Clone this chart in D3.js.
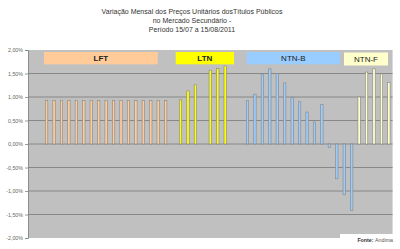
<!DOCTYPE html>
<html>
<head>
<meta charset="utf-8">
<script src="https://cdn.jsdelivr.net/npm/d3@7"></script>
<style>
  body { margin: 0; background: #fff; }
  svg { display: block; font-family: "Liberation Sans", Arial, sans-serif; }
</style>
</head>
<body>
<svg width="400" height="249"></svg>
<script>
var width = 400;
var height = 249;

// values (% change)
var lftValues = [0.93, 0.93, 0.93, 0.93, 0.93, 0.93, 0.93, 0.93, 0.93, 0.93, 0.93, 0.93, 0.93, 0.93, 0.93, 0.93, 0.93];
var ltnValues = [0.94, 1.13, 1.26, null, 1.57, 1.61, 1.66];
var ntnbValues = [0.92, 1.06, 1.49, 1.60, 1.50, 1.30, 0.99, 0.90, 0.68, 0.47, 0.84, -0.07, -0.74, -1.08, -1.41];
var ntnfValues = [1.00, 1.53, 1.60, 1.49, 1.31];

var groupNames = ["LFT", "LTN", "NTN-B", "NTN-F"];
var groupColors = ["#ffcc99", "#ffff00", "#99ccff", "#ffffcc"];
var yTicks = [2, 1.5, 1, 0.5, 0, -0.5, -1, -1.5, -2];

var titleLines = [
  "Variação Mensal dos Preços Unitários dosTítulos Públicos",
  "no Mercado Secundário -",
  "Período 15/07 a 15/08/2011"
];

// build the category sequence, with empty slots between groups
var slots = [];
function addBlank(n) {
  for (var i = 0; i < n; i++) slots.push({ id: "b" + slots.length, value: null, group: -1 });
}
function addGroup(values, g) {
  values.forEach(function (v) {
    slots.push({ id: "s" + slots.length, value: v, group: g });
  });
}
addBlank(2);
addGroup(lftValues, 0);
addBlank(1);
addGroup(ltnValues, 1);
addBlank(2);
addGroup(ntnbValues, 2);
addGroup(ntnfValues, 3);

var svg = d3.select("svg");

var plot = { left: 28, right: 392.6, top: 50, bottom: 238 };

var x = d3.scaleBand()
    .domain(slots.map(function (d) { return d.id; }))
    .range([plot.left, plot.right]);

var y = d3.scaleLinear()
    .domain([-2, 2])
    .range([plot.bottom, plot.top]);

// title
svg.append("g")
  .selectAll("text")
  .data(titleLines)
  .enter().append("text")
    .attr("x", 192)
    .attr("y", function (d, i) { return 13.5 + i * 9.4; })
    .attr("text-anchor", "middle")
    .attr("font-size", 7)
    .attr("fill", "#333")
    .text(function (d) { return d; });

// plot background
svg.append("rect")
    .attr("x", plot.left)
    .attr("y", plot.top)
    .attr("width", plot.right - plot.left)
    .attr("height", plot.bottom - plot.top)
    .attr("fill", "#c0c0c0");

// gridlines
svg.append("g")
  .selectAll("line")
  .data(yTicks.filter(function (t) { return t > -2 && t < 2; }))
  .enter().append("line")
    .attr("x1", plot.left)
    .attr("x2", plot.right)
    .attr("y1", function (d) { return y(d); })
    .attr("y2", function (d) { return y(d); })
    .attr("stroke", "#7a7a7a")
    .attr("stroke-width", 0.8);

// y axis
function fmt(v) {
  return (v < 0 ? "-" : "") + Math.abs(v).toFixed(2).replace(".", ",") + "%";
}
var yAxis = svg.append("g")
    .attr("transform", "translate(" + plot.left + ",0)")
    .call(d3.axisLeft(y).tickValues(yTicks).tickSize(3).tickFormat(fmt));
yAxis.select(".domain").attr("stroke", "#808080").attr("stroke-width", 0.8);
yAxis.selectAll(".tick line").attr("stroke", "#808080").attr("stroke-width", 0.8);
yAxis.selectAll(".tick text")
    .attr("x", -5)
    .attr("font-size", 5.3)
    .attr("font-family", "Liberation Sans, Arial, sans-serif")
    .attr("fill", "#666");

// bars
var barW = 2.4;
svg.append("g")
  .selectAll("rect")
  .data(slots.filter(function (d) { return d.value !== null; }))
  .enter().append("rect")
    .attr("x", function (d) { return x(d.id) + x.bandwidth() / 2 - barW / 2; })
    .attr("y", function (d) { return y(Math.max(0, d.value)); })
    .attr("width", barW)
    .attr("height", function (d) { return Math.abs(y(d.value) - y(0)); })
    .attr("fill", function (d) { return groupColors[d.group]; })
    .attr("stroke", "#858585")
    .attr("stroke-width", 0.6);

// group label boxes
var boxes = [
  { x0: 44, x1: 157.7, y0: 52, y1: 64.3, bold: true },
  { x0: 175.7, x1: 234, y0: 52, y1: 64.3, bold: true },
  { x0: 246.7, x1: 340, y0: 52, y1: 64.3, bold: false },
  { x0: 344, x1: 388, y0: 52.5, y1: 65.5, bold: false }
];
var box = svg.append("g")
  .selectAll("g")
  .data(boxes)
  .enter().append("g");
box.append("rect")
    .attr("x", function (d) { return d.x0; })
    .attr("y", function (d) { return d.y0; })
    .attr("width", function (d) { return d.x1 - d.x0; })
    .attr("height", function (d) { return d.y1 - d.y0; })
    .attr("fill", function (d, i) { return groupColors[i]; });
box.append("text")
    .attr("x", function (d) { return (d.x0 + d.x1) / 2; })
    .attr("y", function (d) { return (d.y0 + d.y1) / 2 + 3; })
    .attr("text-anchor", "middle")
    .attr("font-size", 8)
    .attr("font-weight", function (d) { return d.bold ? "bold" : "normal"; })
    .attr("fill", "#222")
    .text(function (d, i) { return groupNames[i]; });

// source note
svg.append("rect")
    .attr("x", 340)
    .attr("y", 234)
    .attr("width", 60)
    .attr("height", 15)
    .attr("fill", "#fff");
var src = svg.append("text")
    .attr("x", 393)
    .attr("y", 242)
    .attr("text-anchor", "end")
    .attr("font-size", 5.3)
    .attr("fill", "#555");
src.append("tspan").attr("font-weight", "bold").attr("fill", "#333").text("Fonte: ");
src.append("tspan").text("Andima");
</script>
</body>
</html>
